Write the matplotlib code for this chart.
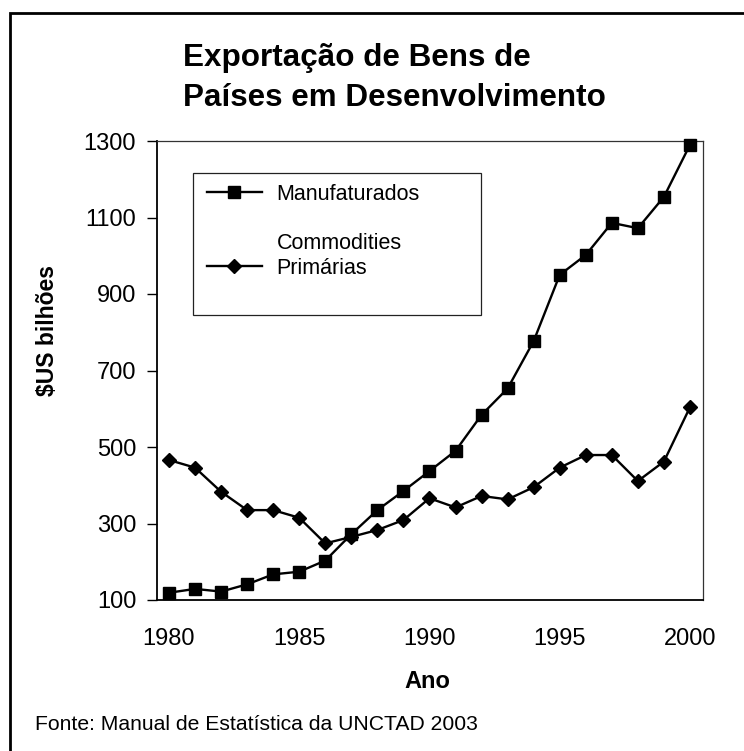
import matplotlib
matplotlib.use("Agg")
import matplotlib.pyplot as plt
from matplotlib.patches import Rectangle
from matplotlib.lines import Line2D

plt.rcParams['font.family'] = ['Liberation Sans', 'DejaVu Sans']

years = list(range(1980, 2001))
manufaturados = [119, 129, 122, 141, 167, 174, 203, 272, 335, 385, 437,
                 490, 584, 653, 777, 950, 1002, 1086, 1072, 1154, 1290]
commodities = [466, 446, 383, 335, 335, 315, 248, 265, 283, 309, 366,
               342, 372, 363, 395, 446, 479, 479, 411, 462, 604]
label_manuf = "Manufaturados"
label_comm = ["Commodities", "Primárias"]
yticks = [100, 300, 500, 700, 900, 1100, 1300]
xticks = [1980, 1985, 1990, 1995, 2000]

W, H = 744, 751
fig = plt.figure(figsize=(W / 100, H / 100), dpi=100)

def fx(px):
    return px / W

def fy(py):
    return 1 - py / H

# outer border
fig.patches.append(Rectangle((fx(10), fy(1000)), 2.0, fy(13) - fy(1000),
                             transform=fig.transFigure, fill=False,
                             edgecolor='black', linewidth=2.0, zorder=0))

ax = fig.add_axes([fx(157), fy(600), fx(703) - fx(157), fy(141) - fy(600)])

l1, = ax.plot(years, manufaturados, color='black', linewidth=1.7,
              marker='s', markersize=8.3, markerfacecolor='black',
              markeredgecolor='black', clip_on=False, zorder=3)
l2, = ax.plot(years, commodities, color='black', linewidth=1.7,
              marker='D', markersize=7, markerfacecolor='black',
              markeredgecolor='black', clip_on=False, zorder=3)

ax.set_xlim(1979.54, 2000.5)
ax.set_ylim(100, 1300)
ax.set_yticks(yticks)
ax.set_yticklabels([str(v) for v in yticks])
ax.set_xticks(xticks)
ax.set_xticklabels([str(v) for v in xticks])
ax.tick_params(axis='y', direction='out', length=7, width=1.0, pad=8,
               labelsize=17, colors='black')
ax.tick_params(axis='x', length=0, pad=20, labelsize=17, colors='black')

for s in ['left', 'bottom']:
    ax.spines[s].set_linewidth(1.3)
    ax.spines[s].set_color('black')
for s in ['top', 'right']:
    ax.spines[s].set_linewidth(0.9)
    ax.spines[s].set_color('#333333')

# legend frame
ax.add_patch(Rectangle((0.0659, 0.6209), 0.5934 - 0.0659, 0.9303 - 0.6209,
                       transform=ax.transAxes, fill=False,
                       edgecolor='#222222', linewidth=0.9, zorder=4))

leg_kw = dict(loc='upper left', bbox_transform=fig.transFigure,
              frameon=False, fontsize=15.5, handlelength=2.55,
              handletextpad=0.68, borderpad=0, borderaxespad=0)
legA = ax.legend([l1], [label_manuf], bbox_to_anchor=(fx(207), fy(184)),
                 **leg_kw)
ax.add_artist(legA)
blank = Line2D([], [], linestyle='none', marker='none')
legB = ax.legend([blank, l2], label_comm, bbox_to_anchor=(fx(207), fy(233)),
                 labelspacing=0.18, **leg_kw)

# titles and labels
fig.text(fx(183), fy(66), "Exportação de Bens de", fontsize=22.6,
         fontweight='bold', ha='left', va='baseline')
fig.text(fx(183), fy(106), "Países em Desenvolvimento", fontsize=22.6,
         fontweight='bold', ha='left', va='baseline')
fig.text(fx(48), fy(330), "$US bilhões", fontsize=16.5, fontweight='bold',
         rotation=90, ha='center', va='center')
fig.text(fx(427), fy(688), "Ano", fontsize=17, fontweight='bold',
         ha='center', va='baseline')
fig.text(fx(35), fy(730), "Fonte: Manual de Estatística da UNCTAD 2003",
         fontsize=15.2, ha='left', va='baseline')

fig.savefig("out.png", dpi=100)
